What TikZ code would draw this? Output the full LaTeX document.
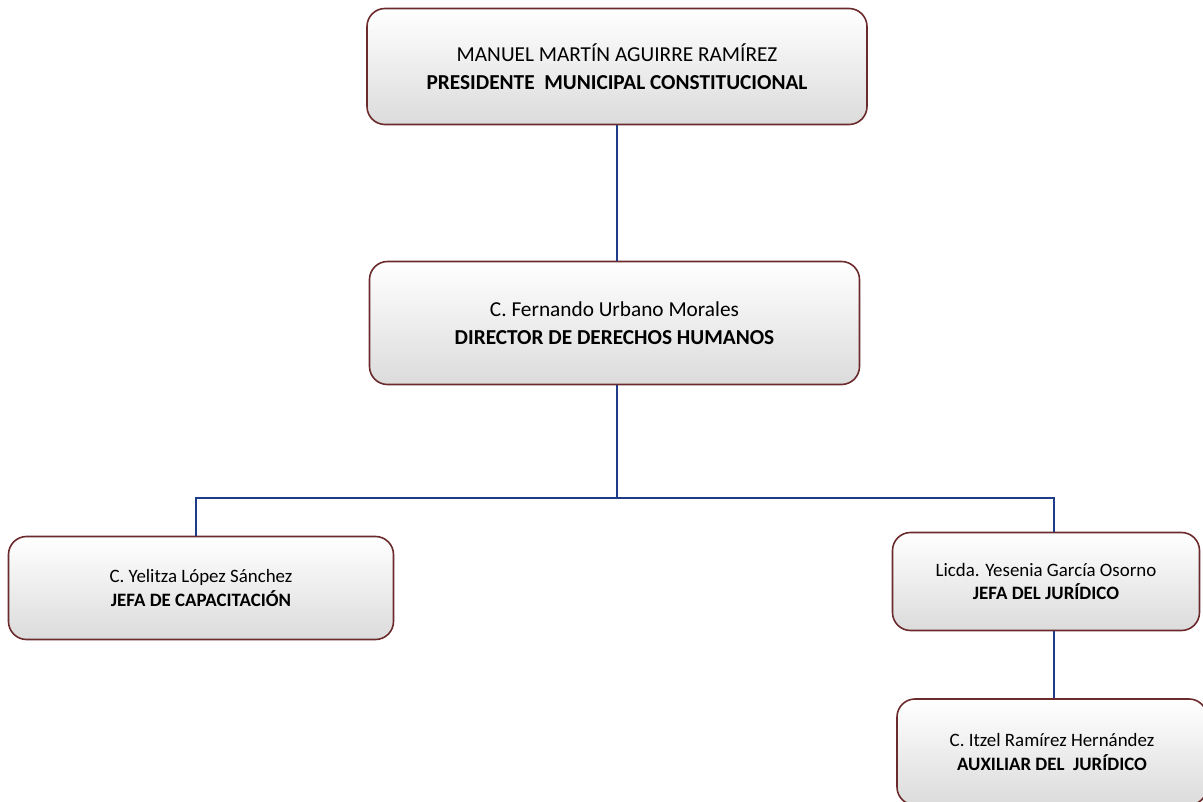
\documentclass[tikz,border=0pt]{standalone}
\usepackage{fontspec}
\setmainfont{Carlito}
\usetikzlibrary{calc}

\definecolor{borde}{HTML}{6B2A2C}
\definecolor{linea}{HTML}{1F3C88}

\tikzset{
	cargo/.style={draw=borde, line width=1.6pt, rounded corners=18pt, top color=white, bottom color=gray!28, align=center, inner sep=0pt},
	grande/.style={font=\fontsize{21.3}{28}\selectfont},
	chico/.style={font=\fontsize{18.9}{23.5}\selectfont},
	enlace/.style={draw=linea, line width=1.3pt}
}

\begin{document}
\begin{tikzpicture}[x=1pt,y=-1pt]
		\clip (0,0) rectangle (1203,802);
		\useasboundingbox (0,0) rectangle (1203,802);
		
		%presidente
		\node[cargo, grande, minimum width=500pt, minimum height=116pt] (pres) at (617,66.5) {MANUEL MARTÍN AGUIRRE RAMÍREZ\\ \textbf{PRESIDENTE~ MUNICIPAL CONSTITUCIONAL}};
		
		%director
		\node[cargo, grande, minimum width=490pt, minimum height=123pt] (dir) at (614.5,323) {C. Fernando Urbano Morales\\ \textbf{DIRECTOR DE DERECHOS HUMANOS}};
		
		%jefaturas
		\node[cargo, chico, minimum width=385pt, minimum height=103pt] (capac) at (201,588) {C. Yelitza López Sánchez\\ \textbf{JEFA DE CAPACITACIÓN}};
		\node[cargo, chico, minimum width=307pt, minimum height=98pt] (jurid) at (1046,581.5) {Licda. Yesenia García Osorno\\ \textbf{JEFA DEL JURÍDICO}};
		
		%auxiliar
		\node[cargo, chico, minimum width=310pt, minimum height=106pt] (aux) at (1052,752) {C. Itzel Ramírez Hernández\\ \textbf{AUXILIAR DEL~ JURÍDICO}};
		
		%lines
		\coordinate (bus) at (617,498);
		\draw[enlace] (bus |- pres.south) -- (bus |- dir.north);
		\draw[enlace] (bus |- dir.south) -- (bus);
		\draw[enlace] ([xshift=-5pt]capac.north) |- (bus) -| ([xshift=8pt]jurid.north);
		\draw[enlace] ([xshift=8pt]jurid.south) -- ([xshift=8pt]jurid.south |- aux.north);
\end{tikzpicture}
\end{document}
